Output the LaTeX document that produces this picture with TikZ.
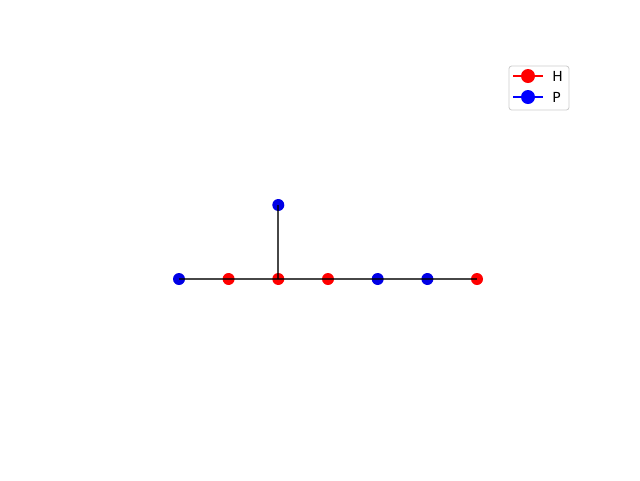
\documentclass[tikz,border=0pt]{standalone}
\usepackage{fontspec}
\setmainfont{DejaVu Sans}
\begin{document}
\begin{tikzpicture}[x=0.75pt,y=-0.75pt,
  hnode/.style={circle,fill={rgb,255:red,255;green,0;blue,0},inner sep=0pt,minimum size=9pt},
  pnode/.style={circle,fill={rgb,255:red,0;green,0;blue,230},inner sep=0pt,minimum size=9pt},
  bond/.style={draw=black,draw opacity=0.72,line width=1.5pt},
  lgline/.style={line width=1.1pt},
  lgmark/.style={circle,inner sep=0pt,minimum size=10.5pt}]
\useasboundingbox (0,0) rectangle (640,480);
\node[pnode] (n1) at (179,279) {};
\node[hnode] (n2) at (228.6,279) {};
\node[hnode] (n3) at (278.3,279) {};
\node[hnode] (n4) at (328,279) {};
\node[pnode] (n5) at (377.7,279) {};
\node[pnode] (n6) at (427.4,279) {};
\node[hnode] (n7) at (477,279) {};
\node[pnode] (n8) at (278.3,205) {};
\draw[bond] (n1.center) -- (n2.center) -- (n3.center) -- (n4.center) -- (n5.center) -- (n6.center) -- (n7.center);
\draw[bond] (n3.center) -- (n8.center);
% legend
\draw[draw={rgb,255:red,204;green,204;blue,204},fill=white,rounded corners=2pt,line width=0.6pt] (509,66) rectangle (569,110);
\coordinate (h1) at (513,76);
\coordinate (h2) at (543,76);
\coordinate (p1) at (513,97);
\coordinate (p2) at (543,97);
\draw[lgline,red] (h1) -- (h2);
\node[lgmark,fill=red] (hm) at (528,76) {};
\draw[lgline,blue] (p1) -- (p2);
\node[lgmark,fill=blue] (pm) at (528,97) {};
\node[anchor=west,inner sep=0pt,font=\fontsize{10.4}{12}\selectfont] (ht) at (552,76) {H};
\node[anchor=west,inner sep=0pt,font=\fontsize{10.4}{12}\selectfont] (pt) at (552,97) {P};
\end{tikzpicture}
\end{document}
